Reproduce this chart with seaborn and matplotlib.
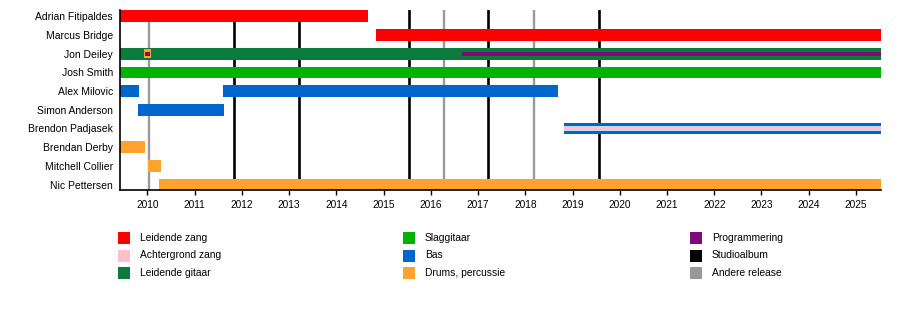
import matplotlib
matplotlib.use("Agg")
import matplotlib.pyplot as plt
from matplotlib.patches import Rectangle
import seaborn as sns

sns.set_theme(style="white")
plt.rcParams['font.family'] = ['Liberation Sans', 'DejaVu Sans']

# ---- data ----
members = ["Adrian Fitipaldes", "Marcus Bridge", "Jon Deiley", "Josh Smith",
           "Alex Milovic", "Simon Anderson", "Brendon Padjasek", "Brendan Derby",
           "Mitchell Collier", "Nic Pettersen"]

roles = ["Leidende zang", "Achtergrond zang", "Leidende gitaar", "Slaggitaar", "Bas",
         "Drums, percussie", "Programmering", "Studioalbum", "Andere release"]
role_colors = ["#FF0000", "#FFC0CB", "#0B7B3C", "#00B300", "#0066CC",
               "#FFA32E", "#7D0A7D", "#000000", "#999999"]

start_year = 2009.42
end_year = 2025.53

# main bars
bar_member = ["Adrian Fitipaldes", "Marcus Bridge", "Jon Deiley", "Josh Smith",
              "Alex Milovic", "Alex Milovic", "Simon Anderson", "Brendon Padjasek",
              "Brendan Derby", "Mitchell Collier", "Nic Pettersen"]
bar_role = ["Leidende zang", "Leidende zang", "Leidende gitaar", "Slaggitaar",
            "Bas", "Bas", "Bas", "Bas",
            "Drums, percussie", "Drums, percussie", "Drums, percussie"]
bar_start = [2009.42, 2014.83, 2009.42, 2009.42, 2009.42, 2011.61, 2009.81, 2018.81,
             2009.42, 2010.02, 2010.25]
bar_end = [2014.68, 2025.53, 2025.53, 2025.53, 2009.83, 2018.69, 2011.63, 2025.53,
           2009.94, 2010.28, 2025.53]

# secondary (thinner) bars
sec_member = ["Jon Deiley", "Jon Deiley", "Jon Deiley", "Brendon Padjasek"]
sec_role = ["Drums, percussie", "Programmering", "Programmering", "Achtergrond zang"]
sec_start = [2009.93, 2009.95, 2016.67, 2018.81]
sec_end = [2010.08, 2010.06, 2025.53, 2025.53]
sec_height = [0.45, 0.22, 0.2, 0.15]

# releases
studio_albums = [2011.84, 2013.20, 2015.53, 2017.20, 2019.55]
other_releases = [2010.03, 2016.27, 2018.18]

years = list(range(2010, 2026))

# ---- plot ----
color_of = dict(zip(roles, role_colors))
row_of = {m: i for i, m in enumerate(members)}

fig = plt.figure(figsize=(9, 3.1), dpi=100)
ax = fig.add_axes([120/900, 1 - 190/310, (881 - 120)/900, 180/310])

for x in studio_albums:
    ax.axvline(x, color=color_of["Studioalbum"], lw=1.9, zorder=1)
for x in other_releases:
    ax.axvline(x, color=color_of["Andere release"], lw=1.7, zorder=1)

bh = 0.625
for m, r, s, e in zip(bar_member, bar_role, bar_start, bar_end):
    ax.barh(row_of[m], e - s, left=s, height=bh, color=color_of[r], lw=0, zorder=2)

for m, r, s, e, h in zip(sec_member, sec_role, sec_start, sec_end, sec_height):
    if r == "Achtergrond zang":
        ax.barh(row_of[m], e - s, left=s, height=h + 0.08, color="#C8D8EE", lw=0, zorder=3)
    ax.barh(row_of[m], e - s, left=s, height=h, color=color_of[r], lw=0, zorder=4)

ax.set_xlim(start_year, end_year)
ax.set_ylim(9.29, -0.337)
ax.set_yticks(range(len(members)))
ax.set_yticklabels(members)
ax.set_xticks(years)
ax.set_xticklabels([str(y) for y in years])
ax.tick_params(axis="y", length=0, pad=5, labelsize=7.5, colors="#000000")
ax.tick_params(axis="x", bottom=True, direction="out", length=3.5, width=1, pad=4,
               labelsize=7.3, colors="#000000")
sns.despine(ax=ax, top=True, right=True)
for sp in ("left", "bottom"):
    ax.spines[sp].set_color("black")
    ax.spines[sp].set_linewidth(1.2)
ax.grid(False)
ax.set_facecolor("white")

# legend (three columns)
col_x = [118, 403, 690]
row_y = [238, 255.5, 273]
for i, (lab, col) in enumerate(zip(roles, role_colors)):
    cx = col_x[i // 3]
    cy = row_y[i % 3]
    fig.patches.append(Rectangle(((cx) / 900, 1 - (cy + 6) / 310), 12 / 900, 12 / 310,
                                 transform=fig.transFigure, facecolor=col, edgecolor="none"))
    fig.text((cx + 22) / 900, 1 - cy / 310, lab, fontsize=7.4, va="center", ha="left",
             color="black")

fig.savefig("out.png", dpi=100, facecolor="white")
